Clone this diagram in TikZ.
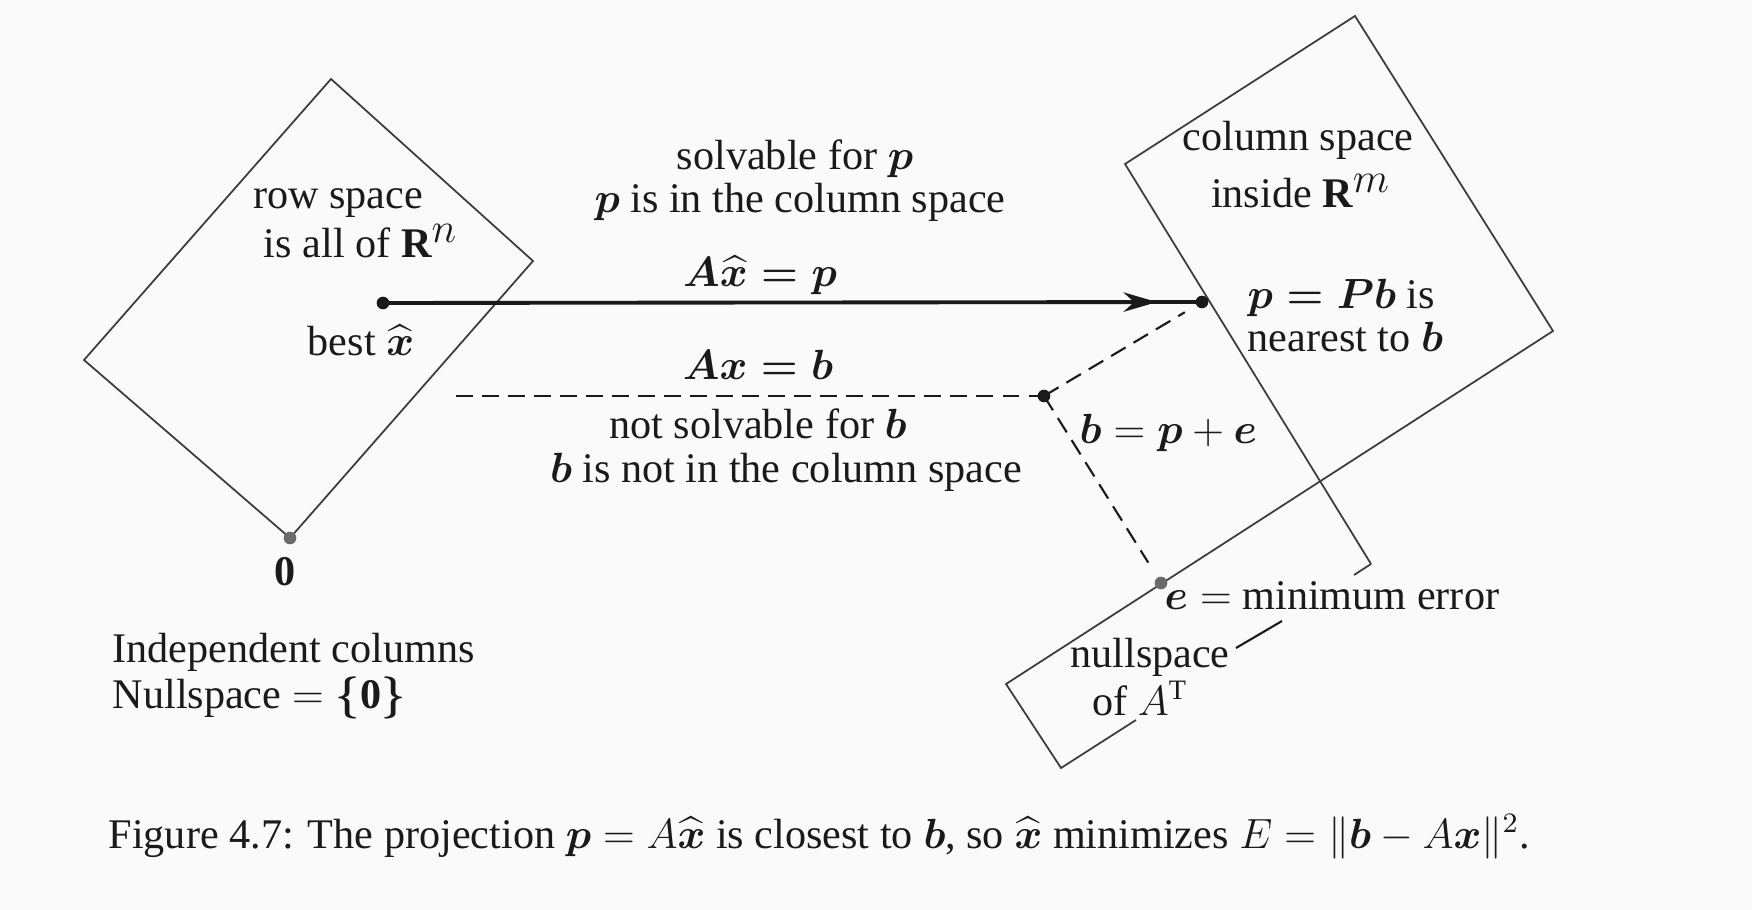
\documentclass[tikz,border=0pt]{standalone}
\usepackage{amsmath}
\usepackage{fontspec}
\setmainfont{Liberation Serif}
\usetikzlibrary{arrows.meta,decorations.markings}
\definecolor{ink}{HTML}{1A1A1A}
\definecolor{edgec}{HTML}{3C3C3C}
\definecolor{bgc}{HTML}{FAFAFA}
\begin{document}
\begin{tikzpicture}[x=0.01cm,y=-0.01cm,
  txt/.style={font=\fontsize{12}{13}\selectfont, text=ink, inner sep=0pt},
  plane/.style={draw=edgec, line width=0.5pt, line join=miter},
  dot/.style={circle, fill=ink, inner sep=0pt, minimum size=3.6pt},
  gdot/.style={circle, fill=ink!65, inner sep=0pt, minimum size=3.6pt},
  dsh/.style={draw=ink, line width=0.6pt, dash pattern=on 4.8pt off 2.6pt},
  mainarrow/.style={draw=ink, line width=1.1pt,
    decoration={markings, mark=at position 0.945 with {\arrow{Stealth[length=9.5pt,width=5.5pt,inset=3pt]}}},
    postaction={decorate}},
]
\fill[bgc] (0,0) rectangle (1752,910);
\useasboundingbox (0,0) rectangle (1752,910);

% row space
\coordinate (L1) at (331,79);
\coordinate (L2) at (533,261);
\coordinate (L3) at (290,538);
\coordinate (L4) at (84,360);
\draw[plane] (L1)--(L2)--(L3)--(L4)--cycle;

% column space and nullspace of A^T
\coordinate (C1) at (1355,16);
\coordinate (C2) at (1553,331);
\coordinate (C3) at (1125,164);
\coordinate (C4) at (1371,564);
\coordinate (C5) at (1354,575);
\coordinate (N1) at (1006,684);
\coordinate (N2) at (1061,768);
\coordinate (N3) at (1136,720);
\draw[plane] (C4)--(C3)--(C1)--(C2)--(N1)--(N2)--(N3);
\draw[plane] (C4)--(C5);

% points
\node[dot] (xh) at (383,303) {};
\node[dot] (p) at (1202,302) {};
\node[dot] (b) at (1044,396) {};
\node[gdot] (z) at (290,538) {};
\node[gdot] (e) at (1161,583) {};
\coordinate (d0) at (456,396);

% connectors
\draw[mainarrow] (xh.center) -- (p.center);
\draw[dsh] (d0) -- (b.center);
\draw[dsh, shorten >=0.2cm] (b.center) -- (p.center);
\draw[dsh, shorten >=0.24cm] (b.center) -- (e.center);

% labels
\node[txt, anchor=base] (sol1) at (795,170) {solvable for $\boldsymbol{p}$};
\node[txt, anchor=base] (sol2) at (800,213) {$\boldsymbol{p}$ is in the column space};
\node[txt, anchor=base] (axp) at (760,287) {$\boldsymbol{A\widehat{x} = p}$};
\node[txt, anchor=base] (rs1) at (338,209) {row space};
\node[txt, anchor=base] (rs2) at (361,258) {is all of $\mathbf{R}^{\textstyle n}$};
\node[txt, anchor=base] (bx) at (361,356) {best $\widehat{\boldsymbol{x}}$};
\node[txt, anchor=base] (axb) at (758,380) {$\boldsymbol{Ax = b}$};
\node[txt, anchor=base] (ns1) at (758,439) {not solvable for $\boldsymbol{b}$};
\node[txt, anchor=base] (ns2) at (786,483) {$\boldsymbol{b}$ is not in the column space};
\node[txt, anchor=base] (zl) at (285,585) {$\mathbf{0}$};
\node[txt, anchor=base west] (ic) at (112,662) {Independent columns};
\node[txt, anchor=base west] (nsz) at (112,708) {Nullspace $=\boldsymbol{\{}\mathbf{0}\boldsymbol{\}}$};
\node[txt, anchor=base] (cs1) at (1298,151) {column space};
\node[txt, anchor=base] (cs2) at (1301,208) {inside $\mathbf{R}^{\textstyle m}$};
\node[txt, anchor=base west] (pp1) at (1247,309) {$\boldsymbol{p = Pb}$ is};
\node[txt, anchor=base west] (pp2) at (1247,352) {nearest to $\boldsymbol{b}$};
\node[txt, anchor=base west] (bpe) at (1079,444) {$\boldsymbol{b} = \boldsymbol{p} + \boldsymbol{e}$};
\node[txt, anchor=base west] (emin) at (1164,610) {$\boldsymbol{e} =$ minimum error};
\node[txt, anchor=base] (nul1) at (1150,667) {nullspace};
\node[txt, anchor=base] (nul2) at (1140,715) {of $A^{\mathrm{T}}$};
\node[txt, anchor=base west] (cap) at (108,848) {Figure 4.7: The projection $\boldsymbol{p} = A\widehat{\boldsymbol{x}}$ is closest to $\boldsymbol{b}$, so $\widehat{\boldsymbol{x}}$ minimizes $E = \|\boldsymbol{b} - A\boldsymbol{x}\|^2$.};

% leader from nullspace label toward the error label
\coordinate (ld1) at (1236,648);
\coordinate (ld2) at (1282,621);
\draw[draw=ink, line width=0.6pt] (ld1) -- (ld2);
\end{tikzpicture}
\end{document}
